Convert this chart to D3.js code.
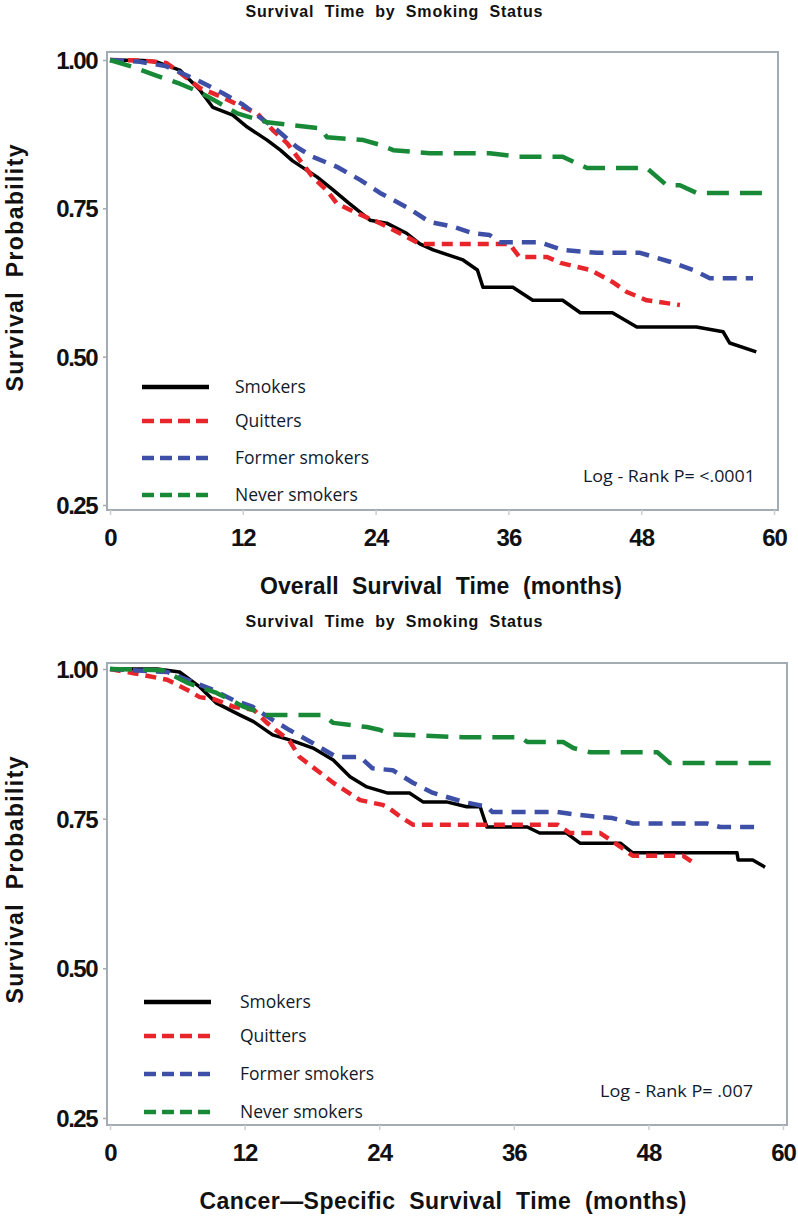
<!DOCTYPE html>
<html>
<head>
<meta charset="utf-8">
<script src="https://cdn.jsdelivr.net/npm/d3@7"></script>
<style>
  body { margin: 0; background: #fff; }
  svg { display: block; }
</style>
</head>
<body>
<svg id="chart" width="798" height="1218"></svg>
<script>
// ---- data (months, survival probability) ----
const seriesNames = ["Smokers", "Quitters", "Former smokers", "Never smokers"];
const xTicks = [0, 12, 24, 36, 48, 60];
const yTicks = [0.25, 0.50, 0.75, 1.00];

// overall survival
const osSmokers = [[0,1],[3,0.999],[4.2,0.997],[6.3,0.983],[8.1,0.95],[9.3,0.92],[11.1,0.907],[12.4,0.887],[14.2,0.865],[15.4,0.848],[16.5,0.83],[18.7,0.803],[20.1,0.782],[21.5,0.76],[23.5,0.73],[25,0.725],[26.8,0.708],[28,0.69],[29.2,0.68],[31.9,0.663],[33.2,0.646],[33.7,0.617],[36.4,0.617],[38.2,0.595],[40.9,0.595],[42.5,0.574],[45.4,0.574],[47.6,0.55],[53,0.55],[55.4,0.542],[56,0.523],[58.4,0.508]];
const osQuitters = [[0,1],[3,0.999],[5.1,0.995],[6,0.983],[8.1,0.953],[10.2,0.937],[11.5,0.925],[13.3,0.91],[14.7,0.882],[16,0.86],[17.2,0.83],[18.3,0.803],[19.6,0.78],[20.5,0.758],[22.3,0.742],[24.4,0.725],[26.5,0.705],[28,0.69],[36.1,0.69],[37,0.668],[39.5,0.668],[40.7,0.658],[43.4,0.646],[45.4,0.626],[46.7,0.609],[48.5,0.595],[51.5,0.587]];
const osFormer = [[0,1],[2.7,0.997],[5,0.99],[7.9,0.966],[10.2,0.944],[12,0.925],[13.5,0.904],[15.1,0.882],[16.9,0.853],[18.3,0.837],[20.5,0.82],[22.6,0.798],[24.4,0.776],[26.8,0.752],[28.9,0.727],[31,0.719],[32.8,0.708],[34.3,0.705],[35.2,0.693],[38.8,0.693],[40.9,0.68],[44,0.675],[47.9,0.675],[50.6,0.66],[52.7,0.646],[54.2,0.632],[58.1,0.632]];
const osNever = [[0,1],[2.1,0.988],[4,0.975],[6.3,0.96],[8.1,0.946],[9.9,0.927],[11.5,0.91],[13.3,0.9],[14.2,0.895],[16.5,0.89],[19,0.885],[19.6,0.87],[22.9,0.865],[24.4,0.857],[25.6,0.848],[28.9,0.843],[34.3,0.843],[36.8,0.837],[40.9,0.837],[43.1,0.818],[48.5,0.818],[50.3,0.789],[51.5,0.789],[53,0.776],[59.4,0.776]];

// cancer-specific survival
const cssSmokers = [[0,1],[4.2,1.0],[6.2,0.995],[8,0.97],[9.5,0.943],[11.6,0.923],[12.8,0.912],[14.5,0.89],[16.3,0.88],[18.1,0.868],[19.9,0.848],[21.4,0.82],[22.9,0.803],[24.7,0.793],[26.7,0.793],[27.9,0.778],[30,0.778],[31.8,0.77],[33,0.77],[33.6,0.736],[37.2,0.736],[38.3,0.726],[40.7,0.726],[41.9,0.709],[45.5,0.709],[46.6,0.693],[55.9,0.693],[56,0.681],[57.3,0.681],[58.4,0.669]];
const cssQuitters = [[0,1],[2.1,0.993],[5.1,0.982],[6.9,0.965],[8,0.953],[9.2,0.95],[11,0.937],[12.8,0.932],[14,0.91],[16,0.88],[16.9,0.853],[18.5,0.83],[19.9,0.81],[22.3,0.781],[24.3,0.773],[24.7,0.77],[25.9,0.753],[27,0.74],[39.9,0.74],[41,0.726],[43.7,0.726],[45.5,0.703],[46.6,0.688],[51.1,0.688],[51.9,0.678]];
const cssFormer = [[0,1],[5.1,0.995],[6.9,0.982],[9.2,0.965],[11,0.948],[12.7,0.937],[14.5,0.915],[16,0.898],[18.1,0.876],[20.2,0.853],[22.3,0.853],[23.4,0.834],[25.2,0.831],[27,0.81],[28.8,0.793],[31.5,0.778],[33.6,0.77],[34.1,0.761],[39.9,0.761],[41.9,0.756],[44.8,0.751],[46.6,0.742],[53.2,0.742],[54.4,0.736],[57.7,0.736]];
const cssNever = [[0,1],[4.7,0.998],[6.9,0.977],[9.5,0.96],[11.9,0.937],[14,0.923],[19,0.923],[19.9,0.91],[22.9,0.903],[24.1,0.898],[25,0.891],[31.5,0.886],[36.6,0.886],[37.2,0.878],[40.4,0.878],[41.3,0.868],[42.8,0.861],[48.8,0.861],[49.9,0.843],[59.5,0.843]];

// ---- styles ----
const colors = ["#000000", "#e8252b", "#3d4fa6", "#188a37"];
const dashes = [null, "11,7", "14,9", "22,11"];
const legendDash = [null, "12,6", "12,6", "12,6"];
const frameCol = "#a3abb3";

const svg = d3.select("#chart");

const panels = [
  { title: "Survival Time by Smoking Status", titleY: 17, xLabel: "Overall Survival Time (months)", xLabelLen: 362, xLabelX: 441,
    box: [107, 52, 778, 510], xr: [110, 774], yr: [505, 60], pText: "Log - Rank P= <.0001", pLen: 172, pX: 755, pY: 482,
    legX: 142, legY: [387, 421, 458, 495], legTx: 235, yLabCy: 268,
    data: [osSmokers, osQuitters, osFormer, osNever] },
  { title: "Survival Time by Smoking Status", titleY: 627, xLabel: "Cancer\u2014Specific Survival Time (months)", xLabelLen: 487, xLabelX: 443,
    box: [107, 663, 787, 1125], xr: [110, 783], yr: [1118, 669], pText: "Log - Rank P= .007", pLen: 153, pX: 753, pY: 1097,
    legX: 144, legY: [1002, 1036, 1074, 1112], legTx: 240, yLabCy: 880,
    data: [cssSmokers, cssQuitters, cssFormer, cssNever] }
];

panels.forEach(drawPanel);

function drawPanel(p){
  const g = svg.append("g");
  const [x0, y0, x1, y1] = p.box;
  const x = d3.scaleLinear().domain([0, 60]).range(p.xr);
  const y = d3.scaleLinear().domain([0.25, 1]).range(p.yr);

  // titre
  g.append("text")
    .attr("x", 394).attr("y", p.titleY)
    .attr("text-anchor", "middle")
    .attr("font-family", "Liberation Sans, Arial, sans-serif")
    .attr("font-size", "16px").attr("font-weight", "700")
    .attr("fill", "#111")
    .attr("word-spacing", "5px")
    .attr("textLength", 297).attr("lengthAdjust", "spacing")
    .text(p.title);

  // cadre
  g.append("rect")
    .attr("x", x0).attr("y", y0)
    .attr("width", x1 - x0).attr("height", y1 - y0)
    .attr("fill", "none").attr("stroke", frameCol).attr("stroke-width", 2);

  // axes
  const xAxis = g.append("g").attr("transform", `translate(0,${y1})`)
    .call(d3.axisBottom(x).tickValues(xTicks).tickSize(5).tickPadding(14).tickFormat(d3.format("d")));
  xAxis.select(".domain").remove();
  xAxis.selectAll("line").attr("stroke", "#c9ced3").attr("stroke-width", 1.5);
  xAxis.selectAll("text")
    .attr("font-family", "Liberation Sans, Arial, sans-serif")
    .attr("font-size", "24px").attr("font-weight", "700").attr("fill", "#111")
    .attr("letter-spacing", "-1px");

  const yAxis = g.append("g").attr("transform", `translate(${x0},0)`)
    .call(d3.axisLeft(y).tickValues(yTicks).tickSize(4).tickPadding(6).tickFormat(d3.format(".2f")));
  yAxis.select(".domain").remove();
  yAxis.selectAll("line").attr("stroke", frameCol).attr("stroke-width", 1.5);
  yAxis.selectAll("text")
    .attr("font-family", "Liberation Sans, Arial, sans-serif")
    .attr("font-size", "24px").attr("font-weight", "700").attr("fill", "#111")
    .attr("letter-spacing", "-1.5px").attr("dy", "0.36em");

  // libellés des axes
  g.append("text")
    .attr("x", p.xLabelX).attr("y", y1 + 84)
    .attr("text-anchor", "middle")
    .attr("font-family", "Liberation Sans, Arial, sans-serif")
    .attr("font-size", "23px").attr("font-weight", "700").attr("fill", "#111")
    .attr("word-spacing", "7px")
    .attr("textLength", p.xLabelLen).attr("lengthAdjust", "spacing")
    .text(p.xLabel);

  g.append("text")
    .attr("transform", `translate(23,${p.yLabCy}) rotate(-90)`)
    .attr("text-anchor", "middle")
    .attr("font-family", "Liberation Sans, Arial, sans-serif")
    .attr("font-size", "23px").attr("font-weight", "700").attr("fill", "#111")
    .attr("word-spacing", "6px")
    .attr("textLength", 247).attr("lengthAdjust", "spacing")
    .text("Survival Probability");

  // courbes
  const line = d3.line().x(d => x(d[0])).y(d => y(d[1]));
  p.data.forEach((s, i) => {
    g.append("path")
      .datum(s)
      .attr("d", line)
      .attr("fill", "none")
      .attr("stroke", colors[i])
      .attr("stroke-width", i === 0 ? 3.5 : 4.5)
      .attr("stroke-dasharray", dashes[i])
      .attr("stroke-linejoin", "round");
  });

  // légende
  seriesNames.forEach((name, i) => {
    g.append("line")
      .attr("x1", p.legX).attr("x2", p.legX + 67)
      .attr("y1", p.legY[i]).attr("y2", p.legY[i])
      .attr("stroke", colors[i]).attr("stroke-width", 4.5)
      .attr("stroke-dasharray", legendDash[i]);
    g.append("text")
      .attr("x", p.legTx).attr("y", p.legY[i] + 6)
      .attr("font-family", "Open Sans, sans-serif")
      .attr("font-size", "17.5px").attr("font-weight", "500").attr("fill", "#111a2a")
      .text(name);
  });

  // p-value
  g.append("text")
    .attr("x", p.pX).attr("y", p.pY)
    .attr("text-anchor", "end")
    .attr("font-family", "Open Sans, sans-serif")
    .attr("font-size", "17px").attr("font-weight", "500").attr("fill", "#111a2a")
    .attr("textLength", p.pLen).attr("lengthAdjust", "spacingAndGlyphs")
    .text(p.pText);
}
</script>
</body>
</html>
